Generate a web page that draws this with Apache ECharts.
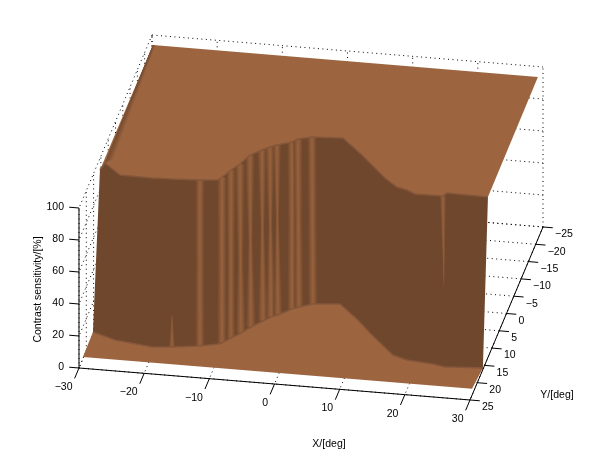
<!DOCTYPE html>
<html>
<head>
<meta charset="utf-8">
<style>html,body{margin:0;padding:0;background:#fff}#c{width:600px;height:450px}</style>
<script src="https://cdn.jsdelivr.net/npm/echarts@6/dist/echarts.min.js"></script>
</head>
<body>
<div id="c"></div>
<script>
// tick values
const xTicks = [-30, -20, -10, 0, 10, 20, 30];
const yTicks = [-25, -20, -15, -10, -5, 0, 5, 10, 15, 20, 25];
const zTicks = [0, 20, 40, 60, 80, 100];
const xTitle = 'X/[deg]', yTitle = 'Y/[deg]', zTitle = 'Contrast sensitivity/[%]';

// surface levels (%): sensitivity outside and inside the tested field
const zHigh = 94, zLow = 0;
// plateau / floor outer limits (deg)
const backEdgeX = [-29.83, 29.27], backEdgeY = [-24.9, -24.76];
const frontEdgeX = [-30.1, 29.6], frontEdgeY = [21.84, 21.82];

// wall: where the surface starts to fall (upper rim) and where it lands (lower rim)
const rimTopX = [-29.87,-29.56,-26.59,-21.65,-18.62,-14.41,-11.74,-11.33,-10.44,-9.48,-8.56,-7.09,-6.09,-5.18,-3.15,-2.44,-0.49,4.17,8.05,10.16,12.90,15.24,16.91,18.35,22.63,23.03,29.37];
const rimTopY = [11.23,9.16,12.17,12.27,12.09,11.73,11.32,10.39,8.23,6.35,3.61,1.94,0.92,0.20,-0.98,-1.96,-2.83,-3.26,1.05,3.61,6.95,9.19,9.80,10.73,10.65,9.72,9.90];
const rimLowX = [-30.18,-29.67,-26.41,-20.49,-17.52,-13.43,-10.89,-10.36,-9.34,-8.17,-7.06,-5.66,-4.72,-3.81,-2.11,-1.19,0.70,4.70,8.37,10.96,15.75,18.14,20.19,22.25,24.22,24.96,29.91];
const rimLowY = [14.63,14.84,16.36,17.47,17.01,16.09,15.12,14.75,13.15,11.52,9.62,7.67,6.37,5.65,3.65,2.94,1.78,1.16,5.22,8.57,14.19,15.27,15.53,15.79,16.36,16.24,15.77];

// narrow ridges on the wall: rim column, width (deg) at upper and lower rim, and how far down/up they reach (0-1)
const ridgeCol      = [4,   5,   7,   8,   9,   10,  11,  12,  13,  14,  15,  16,  24];
const ridgeTopWidth = [0,   1.4, 1.4, 1.4, 1.5, 1.5, 1.4, 1.4, 1.3, 1.4, 1.4, 1.4, 1.0];
const ridgeTopReach = [1,   9,   9,   3,   1.3, 0.9, 0.8, 0.8, 0.7, 3,   3,   9,   0.55];
const ridgeLowWidth = [1.0, 1.4, 1.4, 1.3, 1.5, 1.5, 1.5, 1.5, 1.4, 1.4, 1.4, 1.4, 0];
const ridgeLowReach = [0.2, 9,   9,   3,   1.0, 0.9, 0.9, 0.9, 0.9, 3,   3,   9,   1];

const plateauColor = '#9c6540', wallColor = '#6e472d', rimColor = '#85563a';

// oblique view: pixel position of the origin and pixel step per unit of x, y, z
const view = {ox: 311, oy: 297.5, xx: 6.517, xy: 0.533, yx: -1.46, yy: 3.46, zy: -1.6};
const project = (x, y, z) => [view.ox + view.xx * x + view.yx * y, view.oy + view.xy * x + view.yy * y + view.zy * z];

const xMin = xTicks[0], xMax = xTicks[xTicks.length - 1];
const yMin = yTicks[0], yMax = yTicks[yTicks.length - 1];
const zMax = zTicks[zTicks.length - 1];

// dotted box grid
const gridSegs = [];
yTicks.forEach(y => { gridSegs.push([xMin,y,0,xMax,y,0]); gridSegs.push([xMin,y,0,xMin,y,zMax]); });
xTicks.forEach(x => { gridSegs.push([x,yMin,0,x,yMax,0]); gridSegs.push([x,yMin,0,x,yMin,zMax]); });
zTicks.forEach(z => { gridSegs.push([xMin,yMin,z,xMax,yMin,z]); gridSegs.push([xMin,yMin,z,xMin,yMax,z]); });

// solid axes and ticks
const axisSegs = [[xMin,yMax,0,xMax,yMax,0],[xMax,yMax,0,xMax,yMin,0],[xMin,yMax,0,xMin,yMax,zMax]];
xTicks.forEach(x => axisSegs.push([x,yMax,0,x,yMax+3,0]));
yTicks.forEach(y => axisSegs.push([xMax,y,0,xMax+1.5,y,0]));
zTicks.forEach(z => axisSegs.push([xMin,yMax,z,xMin-1.5,yMax,z]));

// tick and axis-title text
const minus = v => String(v).replace('-', '\u2212');
const texts = [];
xTicks.forEach(x => { const p = project(x,yMax,0); texts.push({t:minus(x), x:p[0]-6.5, y:p[1]+19, align:'right'}); });
yTicks.forEach(y => { const p = project(xMax,y,0); texts.push({t:minus(y), x:p[0]+12, y:p[1]+7.5, align:'left'}); });
zTicks.forEach(z => { const p = project(xMin,yMax,z); texts.push({t:minus(z), x:p[0]-15, y:p[1]-1, align:'right'}); });
texts.push({t:xTitle, x:329, y:444, align:'center'});
texts.push({t:yTitle, x:557, y:395, align:'center'});
texts.push({t:zTitle, x:38, y:289.5, align:'center', rot:Math.PI/2});

// surface polygons
const mix = (a, b, f) => {
  const h = s => [1,3,5].map(i => parseInt(s.substr(i,2),16));
  const A = h(a), B = h(b);
  return 'rgb(' + A.map((v,i) => Math.round(v + (B[i]-v)*f)).join(',') + ')';
};
const polys = [];
const topChain = rimTopX.map((x,i) => [x, rimTopY[i], zHigh]);
const lowChain = rimLowX.map((x,i) => [x, rimLowY[i], zLow]);
polys.push({pts: topChain.concat(lowChain.slice().reverse()), color: wallColor});
ridgeCol.forEach((c,r) => {
  const width = t => Math.max(0,
    ridgeTopWidth[r] * (1 - t / ridgeTopReach[r]),
    ridgeLowWidth[r] * (1 - (1 - t) / ridgeLowReach[r]));
  for (let k = 6; k >= 1; k--) {
    const L = [], R = [];
    for (let s = 0; s <= 30; s++) {
      const t = s / 30, w = width(t) * k / 6 / 2;
      const x = rimTopX[c] + (rimLowX[c]-rimTopX[c])*t;
      const y = rimTopY[c] + (rimLowY[c]-rimTopY[c])*t;
      const z = zHigh + (zLow-zHigh)*t;
      L.push([x-w,y,z]); R.push([x+w,y,z]);
    }
    polys.push({pts: L.concat(R.reverse()), color: mix(wallColor, plateauColor, 0.85*(1-(k-1)/6))});
  }
});
polys.push({pts: [[backEdgeX[0],backEdgeY[0],zHigh],[backEdgeX[1],backEdgeY[1],zHigh]].concat(topChain.slice().reverse()), color: plateauColor});
polys.push({pts: [[frontEdgeX[0],frontEdgeY[0],zLow],[frontEdgeX[1],frontEdgeY[1],zLow]].concat(lowChain.slice().reverse()), color: plateauColor});
// soft dark shoulder along the left edge of the plateau
for (let k = 0; k < 5; k++) {
  const f = 1 - k/5;
  polys.push({pts: [[rimTopX[1],rimTopY[1],zHigh],[backEdgeX[0],backEdgeY[0],zHigh],[backEdgeX[0]+0.35*f,backEdgeY[0],zHigh],[rimTopX[1]+0.95*f,rimTopY[1]-1.2,zHigh]],
    color: mix(plateauColor, wallColor, 0.16*(k+1))});
}
const rims = [topChain, lowChain];

const segItem = (api, d, style) => {
  const a = api.coord(project(d[0],d[1],d[2])), b = api.coord(project(d[3],d[4],d[5]));
  return {type:'line', shape:{x1:a[0],y1:a[1],x2:b[0],y2:b[1]}, style, silent:true};
};

const chart = echarts.init(document.getElementById('c'), null, {renderer:'canvas', width:600, height:450});
chart.setOption({
  animation: false,
  backgroundColor: '#ffffff',
  grid: {left:0, right:0, top:0, bottom:0},
  xAxis: {type:'value', min:0, max:600, show:false},
  yAxis: {type:'value', min:0, max:450, inverse:true, show:false},
  series: [
    {type:'custom', coordinateSystem:'cartesian2d', clip:false, silent:true, data: gridSegs,
     renderItem: (p, api) => segItem(api, gridSegs[p.dataIndex], {stroke:'#000', lineWidth:1, lineDash:[1,3.5], fill:null})},
    {type:'custom', coordinateSystem:'cartesian2d', clip:false, silent:true, data: polys.map((_,i)=>[i]),
     renderItem: (p, api) => {
       const q = polys[p.dataIndex];
       return {type:'polygon', shape:{points:q.pts.map(v => api.coord(project(v[0],v[1],v[2])))}, style:{fill:q.color}, silent:true};
     }},
    {type:'custom', coordinateSystem:'cartesian2d', clip:false, silent:true, data: rims.map((_,i)=>[i]),
     renderItem: (p, api) => ({type:'polyline', shape:{points:rims[p.dataIndex].map(v => api.coord(project(v[0],v[1],v[2])))},
       style:{stroke:rimColor, lineWidth:1.5, fill:null}, silent:true})},
    {type:'custom', coordinateSystem:'cartesian2d', clip:false, silent:true, data: axisSegs,
     renderItem: (p, api) => segItem(api, axisSegs[p.dataIndex], {stroke:'#000', lineWidth:1, fill:null})},
    {type:'custom', coordinateSystem:'cartesian2d', clip:false, silent:true, data: texts.map((_,i)=>[i]),
     renderItem: (p, api) => {
       const t = texts[p.dataIndex], c = api.coord([t.x, t.y]);
       return {type:'text', x:c[0], y:c[1], rotation:t.rot||0, silent:true,
         style:{text:t.t, fill:'#000', align:t.align, verticalAlign:'middle', font:'10.5px "Liberation Sans", Arial, sans-serif'}};
     }}
  ]
});
</script>
</body>
</html>
